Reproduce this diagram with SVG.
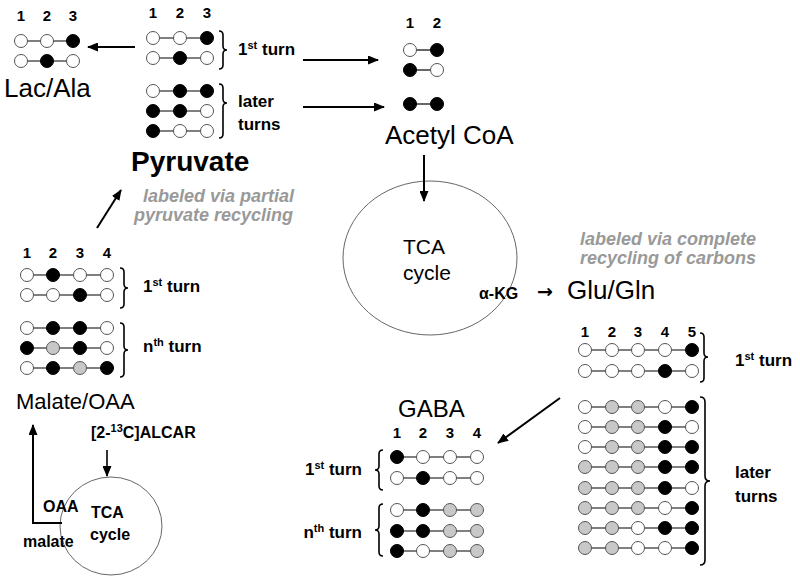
<svg xmlns="http://www.w3.org/2000/svg" width="800" height="578" viewBox="0 0 800 578">
<defs>
<marker id="ah" markerWidth="11" markerHeight="9" refX="10" refY="4.5" orient="auto" markerUnits="userSpaceOnUse"><path d="M0,0 L11,4.5 L0,9 z" fill="#000"/></marker>
<style>
text{font-family:"Liberation Sans",Arial,sans-serif;fill:#000}
.num{font-size:15px;font-weight:bold;text-anchor:middle}
.lbl{font-size:17px;font-weight:bold}
.sup{font-size:11px}
.big{font-size:26px}
.gray{font-size:18px;font-weight:bold;font-style:italic;fill:#999}
.cyc{font-size:21px}
.cb{font-size:16px;font-weight:bold}
.ln{stroke:#000;stroke-width:1.2}
.w{fill:#fff;stroke:#555;stroke-width:1}
.b{fill:#000;stroke:#000;stroke-width:1}
.g{fill:#c8c8c8;stroke:#555;stroke-width:1}
.br{fill:none;stroke:#000;stroke-width:1.6}
.arr{fill:none;stroke:#000;stroke-width:2;marker-end:url(#ah)}
.tca{fill:#fff;stroke:#666;stroke-width:1}
</style>
</defs>
<rect width="800" height="578" fill="#fff"/>

<g id="tca-main">
<ellipse class="tca" cx="430" cy="258" rx="87" ry="77"/>
<text class="cyc" x="403" y="254">TCA</text>
<text class="cyc" x="403" y="280">cycle</text>
</g>

<g id="tca-alcar">
<ellipse class="tca" cx="111" cy="526" rx="51" ry="49"/>
<text class="cb" x="91" y="518">TCA</text>
<text class="cb" x="90" y="540">cycle</text>
<text class="cb" x="43" y="512">OAA</text>
<text class="cb" x="23" y="547">malate</text>
<text class="cb" x="91" y="438">[2-<tspan class="sup" dy="-6">13</tspan><tspan dy="6">C]ALCAR</tspan></text>
</g>

<g id="connectors">
<path class="arr" d="M135,47 L88,47"/>
<path class="arr" d="M303,60 L378,60"/>
<path class="arr" d="M303,107 L384,107"/>
<path class="arr" d="M424,155 L424,201"/>
<path class="arr" d="M97,228 L121,190"/>
<path class="arr" d="M560,398 L498,443"/>
<path class="arr" d="M62,523 L33,523 L33,425"/>
<path class="arr" d="M107,450 L107,476" style="stroke-width:1.6"/>
</g>

<g id="lac-ala">
<text class="num" x="21" y="21">1</text><text class="num" x="47" y="21">2</text><text class="num" x="73" y="21">3</text>
<line class="ln" x1="21" y1="41" x2="73" y2="41"/><circle class="w" cx="21" cy="41" r="6.5"/><circle class="w" cx="47" cy="41" r="6.5"/><circle class="b" cx="73" cy="41" r="6.5"/>
<line class="ln" x1="21" y1="61" x2="73" y2="61"/><circle class="w" cx="21" cy="61" r="6.5"/><circle class="b" cx="47" cy="61" r="6.5"/><circle class="w" cx="73" cy="61" r="6.5"/>
<text class="big" x="4" y="97">Lac/Ala</text>
</g>

<g id="pyruvate">
<text class="num" x="153" y="18">1</text><text class="num" x="180" y="18">2</text><text class="num" x="207" y="18">3</text>
<line class="ln" x1="153" y1="38" x2="207" y2="38"/><circle class="w" cx="153" cy="38" r="6.5"/><circle class="w" cx="180" cy="38" r="6.5"/><circle class="b" cx="207" cy="38" r="6.5"/>
<line class="ln" x1="153" y1="58" x2="207" y2="58"/><circle class="w" cx="153" cy="58" r="6.5"/><circle class="b" cx="180" cy="58" r="6.5"/><circle class="w" cx="207" cy="58" r="6.5"/>
<line class="ln" x1="153" y1="91" x2="207" y2="91"/><circle class="w" cx="153" cy="91" r="6.5"/><circle class="b" cx="180" cy="91" r="6.5"/><circle class="b" cx="207" cy="91" r="6.5"/>
<line class="ln" x1="153" y1="111" x2="207" y2="111"/><circle class="b" cx="153" cy="111" r="6.5"/><circle class="b" cx="180" cy="111" r="6.5"/><circle class="w" cx="207" cy="111" r="6.5"/>
<line class="ln" x1="153" y1="131" x2="207" y2="131"/><circle class="b" cx="153" cy="131" r="6.5"/><circle class="w" cx="180" cy="131" r="6.5"/><circle class="w" cx="207" cy="131" r="6.5"/>
<path class="br" d="M219,31 Q223,31 223,35 L223,46 Q223,50 227,50 Q223,50 223,54 L223,65 Q223,69 219,69"/>
<path class="br" d="M219,84 Q223,84 223,88 L223,99 Q223,103 227,103 Q223,103 223,107 L223,134 Q223,138 219,138"/>
<text class="lbl" x="238" y="55">1<tspan class="sup" dy="-6">st</tspan><tspan dy="6"> turn</tspan></text>
<text class="lbl" x="238" y="107">later</text>
<text class="lbl" x="238" y="130">turns</text>
<text x="131" y="171" style="font-size:28px;font-weight:bold">Pyruvate</text>
<text class="gray" x="143" y="202">labeled via partial</text>
<text class="gray" x="134" y="221">pyruvate recycling</text>
</g>

<g id="acetyl-coa">
<text class="num" x="410" y="28">1</text><text class="num" x="437" y="28">2</text>
<line class="ln" x1="410" y1="50" x2="437" y2="50"/><circle class="w" cx="410" cy="50" r="6.5"/><circle class="b" cx="437" cy="50" r="6.5"/>
<line class="ln" x1="410" y1="70" x2="437" y2="70"/><circle class="b" cx="410" cy="70" r="6.5"/><circle class="w" cx="437" cy="70" r="6.5"/>
<line class="ln" x1="410" y1="104" x2="437" y2="104"/><circle class="b" cx="410" cy="104" r="6.5"/><circle class="b" cx="437" cy="104" r="6.5"/>
<text class="big" x="385" y="144">Acetyl CoA</text>
</g>

<g id="malate-oaa">
<text class="num" x="27" y="258">1</text><text class="num" x="53" y="258">2</text><text class="num" x="80" y="258">3</text><text class="num" x="107" y="258">4</text>
<line class="ln" x1="27" y1="275" x2="107" y2="275"/><circle class="w" cx="27" cy="275" r="6.5"/><circle class="b" cx="53" cy="275" r="6.5"/><circle class="w" cx="80" cy="275" r="6.5"/><circle class="w" cx="107" cy="275" r="6.5"/>
<line class="ln" x1="27" y1="295" x2="107" y2="295"/><circle class="w" cx="27" cy="295" r="6.5"/><circle class="w" cx="53" cy="295" r="6.5"/><circle class="b" cx="80" cy="295" r="6.5"/><circle class="w" cx="107" cy="295" r="6.5"/>
<line class="ln" x1="27" y1="328" x2="107" y2="328"/><circle class="w" cx="27" cy="328" r="6.5"/><circle class="b" cx="53" cy="328" r="6.5"/><circle class="b" cx="80" cy="328" r="6.5"/><circle class="w" cx="107" cy="328" r="6.5"/>
<line class="ln" x1="27" y1="348" x2="107" y2="348"/><circle class="b" cx="27" cy="348" r="6.5"/><circle class="g" cx="53" cy="348" r="6.5"/><circle class="b" cx="80" cy="348" r="6.5"/><circle class="w" cx="107" cy="348" r="6.5"/>
<line class="ln" x1="27" y1="368" x2="107" y2="368"/><circle class="w" cx="27" cy="368" r="6.5"/><circle class="b" cx="53" cy="368" r="6.5"/><circle class="g" cx="80" cy="368" r="6.5"/><circle class="b" cx="107" cy="368" r="6.5"/>
<path class="br" d="M120,268 Q124,268 124,272 L124,284 Q124,288 128,288 Q124,288 124,292 L124,304 Q124,308 120,308"/>
<path class="br" d="M120,323 Q124,323 124,327 L124,346 Q124,350 128,350 Q124,350 124,354 L124,373 Q124,377 120,377"/>
<text class="lbl" x="143" y="292">1<tspan class="sup" dy="-6">st</tspan><tspan dy="6"> turn</tspan></text>
<text class="lbl" x="143" y="352">n<tspan class="sup" dy="-6">th</tspan><tspan dy="6"> turn</tspan></text>
<text x="16" y="409" style="font-size:22px">Malate/OAA</text>
</g>

<g id="glu-gln">
<text class="cb" x="479" y="299">α-KG</text>
<text x="537" y="298" style="font-family:'DejaVu Sans',sans-serif;font-size:19px;font-weight:bold">→</text>
<text class="big" x="567" y="299">Glu/Gln</text>
<text class="gray" x="580" y="245">labeled via complete</text>
<text class="gray" x="580" y="264">recycling of carbons</text>
<text class="num" x="585" y="337">1</text><text class="num" x="612" y="337">2</text><text class="num" x="638" y="337">3</text><text class="num" x="665" y="337">4</text><text class="num" x="692" y="337">5</text>
<line class="ln" x1="585" y1="350" x2="692" y2="350"/><circle class="w" cx="585" cy="350" r="6.5"/><circle class="w" cx="612" cy="350" r="6.5"/><circle class="w" cx="638" cy="350" r="6.5"/><circle class="w" cx="665" cy="350" r="6.5"/><circle class="b" cx="692" cy="350" r="6.5"/>
<line class="ln" x1="585" y1="371" x2="692" y2="371"/><circle class="w" cx="585" cy="371" r="6.5"/><circle class="w" cx="612" cy="371" r="6.5"/><circle class="w" cx="638" cy="371" r="6.5"/><circle class="b" cx="665" cy="371" r="6.5"/><circle class="w" cx="692" cy="371" r="6.5"/>
<line class="ln" x1="585" y1="407" x2="692" y2="407"/><circle class="w" cx="585" cy="407" r="6.5"/><circle class="g" cx="612" cy="407" r="6.5"/><circle class="g" cx="638" cy="407" r="6.5"/><circle class="w" cx="665" cy="407" r="6.5"/><circle class="b" cx="692" cy="407" r="6.5"/>
<line class="ln" x1="585" y1="427" x2="692" y2="427"/><circle class="w" cx="585" cy="427" r="6.5"/><circle class="g" cx="612" cy="427" r="6.5"/><circle class="g" cx="638" cy="427" r="6.5"/><circle class="b" cx="665" cy="427" r="6.5"/><circle class="w" cx="692" cy="427" r="6.5"/>
<line class="ln" x1="585" y1="447" x2="692" y2="447"/><circle class="w" cx="585" cy="447" r="6.5"/><circle class="g" cx="612" cy="447" r="6.5"/><circle class="g" cx="638" cy="447" r="6.5"/><circle class="b" cx="665" cy="447" r="6.5"/><circle class="b" cx="692" cy="447" r="6.5"/>
<line class="ln" x1="585" y1="467" x2="692" y2="467"/><circle class="g" cx="585" cy="467" r="6.5"/><circle class="g" cx="612" cy="467" r="6.5"/><circle class="g" cx="638" cy="467" r="6.5"/><circle class="b" cx="665" cy="467" r="6.5"/><circle class="b" cx="692" cy="467" r="6.5"/>
<line class="ln" x1="585" y1="488" x2="692" y2="488"/><circle class="g" cx="585" cy="488" r="6.5"/><circle class="g" cx="612" cy="488" r="6.5"/><circle class="g" cx="638" cy="488" r="6.5"/><circle class="b" cx="665" cy="488" r="6.5"/><circle class="w" cx="692" cy="488" r="6.5"/>
<line class="ln" x1="585" y1="508" x2="692" y2="508"/><circle class="g" cx="585" cy="508" r="6.5"/><circle class="g" cx="612" cy="508" r="6.5"/><circle class="g" cx="638" cy="508" r="6.5"/><circle class="w" cx="665" cy="508" r="6.5"/><circle class="b" cx="692" cy="508" r="6.5"/>
<line class="ln" x1="585" y1="528" x2="692" y2="528"/><circle class="g" cx="585" cy="528" r="6.5"/><circle class="g" cx="612" cy="528" r="6.5"/><circle class="w" cx="638" cy="528" r="6.5"/><circle class="b" cx="665" cy="528" r="6.5"/><circle class="b" cx="692" cy="528" r="6.5"/>
<line class="ln" x1="585" y1="548" x2="692" y2="548"/><circle class="g" cx="585" cy="548" r="6.5"/><circle class="g" cx="612" cy="548" r="6.5"/><circle class="w" cx="638" cy="548" r="6.5"/><circle class="w" cx="665" cy="548" r="6.5"/><circle class="b" cx="692" cy="548" r="6.5"/>
<path class="br" d="M700,333 Q704,333 704,337 L704,353 Q704,357 708,357 Q704,357 704,361 L704,378 Q704,382 700,382"/>
<path class="br" d="M700,397 Q705,397 705,402 L705,476 Q705,481 710,481 Q705,481 705,486 L705,560 Q705,565 700,565"/>
<text class="lbl" x="735" y="366">1<tspan class="sup" dy="-6">st</tspan><tspan dy="6"> turn</tspan></text>
<text class="lbl" x="735" y="478">later</text>
<text class="lbl" x="735" y="502">turns</text>
</g>

<g id="gaba">
<text class="big" x="398" y="417" style="font-size:24px">GABA</text>
<text class="num" x="397" y="438">1</text><text class="num" x="423" y="438">2</text><text class="num" x="450" y="438">3</text><text class="num" x="477" y="438">4</text>
<line class="ln" x1="397" y1="457" x2="477" y2="457"/><circle class="b" cx="397" cy="457" r="6.5"/><circle class="w" cx="423" cy="457" r="6.5"/><circle class="w" cx="450" cy="457" r="6.5"/><circle class="w" cx="477" cy="457" r="6.5"/>
<line class="ln" x1="397" y1="478" x2="477" y2="478"/><circle class="w" cx="397" cy="478" r="6.5"/><circle class="b" cx="423" cy="478" r="6.5"/><circle class="w" cx="450" cy="478" r="6.5"/><circle class="w" cx="477" cy="478" r="6.5"/>
<line class="ln" x1="397" y1="510" x2="477" y2="510"/><circle class="w" cx="397" cy="510" r="6.5"/><circle class="b" cx="423" cy="510" r="6.5"/><circle class="g" cx="450" cy="510" r="6.5"/><circle class="g" cx="477" cy="510" r="6.5"/>
<line class="ln" x1="397" y1="531" x2="477" y2="531"/><circle class="b" cx="397" cy="531" r="6.5"/><circle class="b" cx="423" cy="531" r="6.5"/><circle class="g" cx="450" cy="531" r="6.5"/><circle class="g" cx="477" cy="531" r="6.5"/>
<line class="ln" x1="397" y1="551" x2="477" y2="551"/><circle class="b" cx="397" cy="551" r="6.5"/><circle class="w" cx="423" cy="551" r="6.5"/><circle class="g" cx="450" cy="551" r="6.5"/><circle class="g" cx="477" cy="551" r="6.5"/>
<path class="br" d="M383,450 Q379,450 379,454 L379,466 Q379,470 375,470 Q379,470 379,474 L379,486 Q379,490 383,490"/>
<path class="br" d="M383,504 Q379,504 379,508 L379,526 Q379,530 375,530 Q379,530 379,534 L379,552 Q379,556 383,556"/>
<text class="lbl" x="362" y="475" text-anchor="end">1<tspan class="sup" dy="-6">st</tspan><tspan dy="6"> turn</tspan></text>
<text class="lbl" x="362" y="538" text-anchor="end">n<tspan class="sup" dy="-6">th</tspan><tspan dy="6"> turn</tspan></text>
</g>
</svg>
